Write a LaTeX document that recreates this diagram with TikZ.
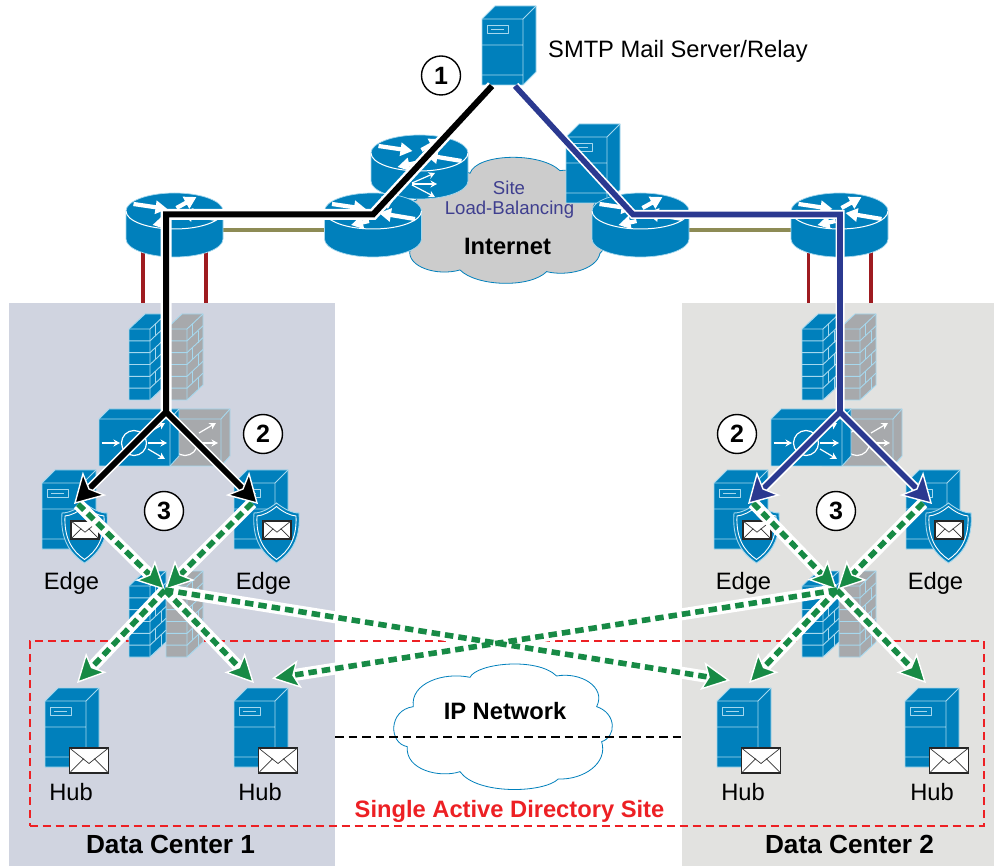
\documentclass[tikz,border=0pt]{standalone}
\usepackage{fontspec}
\setmainfont{Liberation Sans}
\usetikzlibrary{arrows.meta}
\definecolor{ciscoblue}{HTML}{0080BC}
\definecolor{edgeblue}{HTML}{A6D8EE}
\definecolor{fwgrey}{HTML}{A7A9AC}
\definecolor{panelA}{HTML}{D0D4E0}
\definecolor{panelB}{HTML}{E2E2E0}
\definecolor{wanred}{HTML}{9E1B20}
\definecolor{olive}{HTML}{8D8B55}
\definecolor{navyline}{HTML}{2B3990}
\definecolor{greenline}{HTML}{178A45}
\definecolor{adred}{HTML}{ED2024}
\definecolor{lbtext}{HTML}{3F3F8F}
\definecolor{cloudgrey}{HTML}{CCCCCC}
\tikzset{
  x=1pt,y=-1pt,
  lbl/.style={font=\fontsize{23.7}{26}\selectfont,inner sep=0pt},
  lblb/.style={font=\fontsize{23.7}{26}\selectfont\bfseries,inner sep=0pt},
  dclbl/.style={font=\fontsize{26.2}{28}\selectfont\bfseries,inner sep=0pt},
  stepmark/.style={circle,draw=black,line width=1.4pt,fill=white,minimum size=39pt,inner sep=0pt,font=\fontsize{25}{26}\selectfont\bfseries},
  iconline/.style={draw=edgeblue,line width=0.9pt,line join=round},
  whitearrow/.style={white,line width=4.2pt,-{Triangle[length=12pt,width=13pt]}},
  thinarrow/.style={white,line width=1.2pt,-{Stealth[length=6.5pt,width=7pt]}},
  halo/.style={white,line width=11pt,line join=miter},
  blackline/.style={black,line width=6pt,line join=miter},
  navy/.style={navyline,line width=5.6pt,line join=miter},
  blackhead/.style={black,line width=6pt,-{Stealth[length=29pt,width=33pt,inset=7pt,line width=1.4pt,color=white,fill=black]}},
  navyhead/.style={navyline,line width=5.6pt,-{Stealth[length=29pt,width=33pt,inset=7pt,line width=1.4pt,color=white,fill=navyline]}},
  greenhalo/.style={white,line width=12pt,shorten >=16pt},
  greenarrow/.style={greenline,line width=5.6pt,dash pattern=on 8.5pt off 5pt,-{Stealth[length=28pt,width=28pt,inset=6pt,line width=1.4pt,color=white,fill=greenline]}},
  pics/server/.style={code={
    \path[fill=ciscoblue,iconline] (0,0)--(13,-13)--(54,-13)--(54,53)--(41,66)--(0,66)--cycle;
    \draw[iconline] (0,0)--(41,0)--(41,66) (41,0)--(54,-13) (0,26)--(41,26) (0,56)--(41,56);
    \draw[iconline] (5,6) rectangle (26,14) (9,10)--(22,10);
  }},
  pics/envelope/.style 2 args={code={
    \draw[fill=white,draw=black!85,line width=1.1pt] (0,0) rectangle (#1,#2);
    \draw[black!80,line width=0.7pt] (0,0)--(.5*#1,.62*#2)--(#1,0) (0,#2)--(.37*#1,.42*#2) (#1,#2)--(.63*#1,.42*#2);
  }},
  pics/shield/.style={code={
    \path[fill=ciscoblue,draw=edgeblue,line width=0.9pt] (22.5,0) .. controls (30,6) and (38,10) .. (45,10) .. controls (47,35) and (38,50) .. (22.5,60) .. controls (7,50) and (-2,35) .. (0,10) .. controls (7,10) and (15,6) .. cycle;
    \draw[white,line width=0.9pt] (22.5,3.5) .. controls (29,9) and (36,12.5) .. (42,13) .. controls (43,35) and (35,48) .. (22.5,56.5) .. controls (10,48) and (2,35) .. (3,13) .. controls (9,12.5) and (16,9) .. cycle;
    \pic at (9,18) {envelope={28}{18}};
  }},
  pics/router/.style={code={
    \path[fill=ciscoblue,draw=edgeblue,line width=0.7pt] (-48.5,0) -- (-48.5,28) arc[start angle=180,end angle=360,x radius=48.5pt,y radius=18pt] -- (48.5,0) arc[start angle=0,end angle=180,x radius=48.5pt,y radius=18pt] -- cycle;
    \draw[white,line width=1pt] (-48.5,0) arc[start angle=180,end angle=360,x radius=48.5pt,y radius=18pt];
    \draw[whitearrow] (-41,-7)--(-7,-2);
    \draw[whitearrow] (2,-3)--(22,-14);
    \draw[whitearrow] (42,8)--(6,2);
    \draw[whitearrow] (-4,10)--(-22,14);
  }},
  pics/firewall/.style={code={
    \path[fill=#1,iconline] (0,0)--(16,-15)--(37,-15)--(37,56)--(21,71)--(0,71)--cycle;
    \draw[iconline] (0,0)--(21,0)--(21,71) (21,0)--(37,-15);
    \foreach \k in {1,...,5}{
      \draw[iconline] (0,{\k*11.83})--(21,{\k*11.83})--(37,{\k*11.83-15});
    }
    \foreach \k in {0,2,4}{
      \draw[iconline] (26,{\k*11.83-5})--(26,{\k*11.83+6.8});
    }
    \foreach \k in {1,3,5}{
      \draw[iconline] (32,{\k*11.83-10})--(32,{\k*11.83+1.8});
    }
  }},
  pics/balancer/.style={code={
    \path[fill=#1,iconline] (0,0)--(10,-10)--(80,-10)--(80,37)--(71,47)--(0,47)--cycle;
    \draw[iconline] (0,0)--(71,0)--(71,47) (71,0)--(80,-10);
    \draw[thinarrow] (2.5,24)--(21,24);
    \draw[white,line width=1.2pt] (35,24) circle[radius=12.5pt];
    \draw[thinarrow] (49,24)--(68,24);
    \draw[thinarrow] (49,14)--(66,4);
    \draw[thinarrow] (49,30)--(66,40);
  }},
}
\begin{document}
\begin{tikzpicture}
\useasboundingbox (0,0) rectangle (994,866);
\fill[white] (0,0) rectangle (994,866);
% data-centre panels
\fill[panelA] (9,303) rectangle (335,866);
\fill[panelB] (682,303) rectangle (994,866);
% anchors of the connectors
\coordinate (smtpL) at (492,86);
\coordinate (smtpR) at (515,86);
\coordinate (cornerA) at (373,214.5);
\coordinate (cornerB) at (166,214.5);
\coordinate (splitA) at (166,412);
\coordinate (cornerC) at (633,214.5);
\coordinate (cornerD) at (840,214.5);
\coordinate (splitB) at (840,412);
\coordinate (edgeA) at (74,504);
\coordinate (edgeB) at (258,504);
\coordinate (edgeC) at (748,504);
\coordinate (edgeD) at (932,504);
\coordinate (edgeAg) at (78,504);
\coordinate (edgeBg) at (252,503);
\coordinate (edgeCg) at (753,503);
\coordinate (edgeDg) at (923,503);
\coordinate (hubA) at (77,683);
\coordinate (hubB) at (254,683);
\coordinate (hubBx) at (272,678.5);
\coordinate (hubC) at (749,683);
\coordinate (hubCx) at (730,680.5);
\coordinate (hubD) at (926,683);
\coordinate (fwA) at (165,590);
\coordinate (fwB) at (837,590);
\coordinate (rA1) at (143,252);
\coordinate (rA2) at (206,252);
\coordinate (rB1) at (808.5,252);
\coordinate (rB2) at (871,252);
\coordinate (pA1) at (143,303);
\coordinate (pA2) at (206,303);
\coordinate (pB1) at (808.5,303);
\coordinate (pB2) at (871,303);
\coordinate (oA1) at (223,230);
\coordinate (oA2) at (324,230);
\coordinate (oB1) at (689,230);
\coordinate (oB2) at (791,230);
\coordinate (dashA) at (335,737);
\coordinate (dashB) at (682,737);
% WAN links
\draw[wanred,line width=3.6pt] (rA1)--(pA1) (rA2)--(pA2) (rB1)--(pB1) (rB2)--(pB2);
\draw[olive,line width=4pt] (oA1)--(oA2) (oB1)--(oB2);
% Internet cloud
\begin{scope}[shift={(320,0)},x=.3333pt,y=-.3333pt]
\path[fill=cloudgrey,draw=ciscoblue,line width=.8pt] (450,520) .. controls (470,460) and (660,455) .. (720,512)
 .. controls (790,500) and (850,570) .. (820,620)
 .. controls (870,650) and (870,740) .. (840,760)
 .. controls (830,810) and (740,830) .. (680,815)
 .. controls (630,865) and (470,860) .. (420,810)
 .. controls (350,830) and (260,800) .. (270,750)
 .. controls (200,700) and (220,620) .. (290,600)
 .. controls (280,540) and (390,490) .. (450,520) -- cycle;
\end{scope}
% routers and servers at the top
\pic (rtTop) at (419.5,153) {router};
\draw[thinarrow] (412,183)--(435,173);
\draw[thinarrow] (412,184)--(437,184);
\draw[thinarrow] (412,185)--(435,197);
\pic (srvLB) at (566,137) {server};
\pic (srvSMTP) at (482,19) {server};
\pic (rtA) at (174.5,211) {router};
\pic (rtB) at (373,211) {router};
\pic (rtC) at (640.5,211) {router};
\pic (rtD) at (839.5,211) {router};
% IP network cloud
\begin{scope}[shift={(330,600)},x=.3333pt,y=-.3333pt]
\path[fill=white,draw=ciscoblue,line width=.8pt] (420,232) .. controls (440,190) and (620,170) .. (680,228)
 .. controls (750,215) and (830,260) .. (800,320)
 .. controls (860,340) and (860,410) .. (815,425)
 .. controls (835,490) and (760,540) .. (685,537)
 .. controls (640,580) and (440,585) .. (390,515)
 .. controls (330,535) and (225,510) .. (232,440)
 .. controls (175,430) and (175,330) .. (250,320)
 .. controls (240,250) and (340,215) .. (420,232) -- cycle;
\end{scope}
\draw[black,line width=2pt,dash pattern=on 8.5pt off 5pt] (dashA)--(dashB);
% Active Directory site
\node[draw=adred,line width=2pt,dash pattern=on 8pt off 5pt,minimum width=954pt,minimum height=185pt,inner sep=0pt,outer sep=0pt,anchor=north west] (adsite) at (29.5,641) {};
% security devices
\pic (fwA1g) at (166,329) {firewall=fwgrey};
\pic (fwA1b) at (129,329) {firewall=ciscoblue};
\pic (lbA1g) at (150,419) {balancer=fwgrey};
\pic (lbA1b) at (99,419) {balancer=ciscoblue};
\pic (fwA2g) at (166,586) {firewall=fwgrey};
\pic (fwA2b) at (129,586) {firewall=ciscoblue};
\pic (fwB1g) at (839,329) {firewall=fwgrey};
\pic (fwB1b) at (802,329) {firewall=ciscoblue};
\pic (lbB1g) at (822,419) {balancer=fwgrey};
\pic (lbB1b) at (771,419) {balancer=ciscoblue};
\pic (fwB2g) at (839,586) {firewall=fwgrey};
\pic (fwB2b) at (802,586) {firewall=ciscoblue};
% Edge servers
\pic (srvE1) at (42,483) {server};
\pic (srvE2) at (234,483) {server};
\pic (srvE3) at (714,483) {server};
\pic (srvE4) at (906,483) {server};
\pic (shE1) at (62,503) {shield};
\pic (shE2) at (254,503) {shield};
\pic (shE3) at (734,503) {shield};
\pic (shE4) at (926,503) {shield};
% Hub servers
\pic (srvH1) at (45,701) {server};
\pic (srvH2) at (234,701) {server};
\pic (srvH3) at (717,701) {server};
\pic (srvH4) at (905,701) {server};
\pic (envH1) at (69.5,748) {envelope={39}{25}};
\pic (envH2) at (258.5,748) {envelope={39}{25}};
\pic (envH3) at (741.5,748) {envelope={39}{25}};
\pic (envH4) at (929.5,748) {envelope={39}{25}};
% green mail flows
\foreach \a/\b in {edgeAg/fwA,edgeBg/fwA,fwA/hubA,fwA/hubB,fwA/hubCx,edgeCg/fwB,edgeDg/fwB,fwB/hubC,fwB/hubD,fwB/hubBx}{
  \draw[greenhalo] (\a)--(\b);
}
\foreach \a/\b in {edgeAg/fwA,edgeBg/fwA,fwA/hubA,fwA/hubB,fwA/hubCx,edgeCg/fwB,edgeDg/fwB,fwB/hubC,fwB/hubD,fwB/hubBx}{
  \draw[greenarrow] (\a)--(\b);
}
% SMTP paths
\draw[halo] (smtpL)--(cornerA)--(cornerB)--(splitA);
\draw[white,line width=9pt,shorten >=14pt] (splitA)--(edgeA);
\draw[white,line width=9pt,shorten >=14pt] (splitA)--(edgeB);
\draw[blackline] (smtpL)--(cornerA)--(cornerB)--(splitA);
\draw[blackhead] (splitA)--(edgeA);
\draw[blackhead] (splitA)--(edgeB);
\draw[halo,line width=9pt] (smtpR)--(cornerC)--(cornerD)--(splitB);
\draw[white,line width=9pt,shorten >=14pt] (splitB)--(edgeC);
\draw[white,line width=9pt,shorten >=14pt] (splitB)--(edgeD);
\draw[navy] (smtpR)--(cornerC)--(cornerD)--(splitB);
\draw[navyhead] (splitB)--(edgeC);
\draw[navyhead] (splitB)--(edgeD);
% labels
\node[lbl,anchor=west] (smtp) at (548,51.5) {SMTP Mail Server/Relay};
\node[font=\fontsize{18.6}{20}\selectfont,text=lbtext,inner sep=0pt] (sitetxt) at (509,188) {Site};
\node[font=\fontsize{18.6}{20}\selectfont,text=lbtext,inner sep=0pt] (lbtxt) at (509.5,210) {Load-Balancing};
\node[lblb] (inet) at (507.5,246) {Internet};
\node[lblb] (ipnet) at (505,711) {IP Network};
\node[lblb,text=adred] (adlabel) at (509.5,811) {Single Active Directory Site};
\node[dclbl] (dc1) at (170.5,844) {Data Center 1};
\node[dclbl] (dc2) at (849.5,844) {Data Center 2};
\node[lbl] (e1) at (71.5,583) {Edge};
\node[lbl] (e2) at (263.5,583) {Edge};
\node[lbl] (e3) at (743.5,583) {Edge};
\node[lbl] (e4) at (935.5,583) {Edge};
\node[lbl] (h1) at (71,792) {Hub};
\node[lbl] (h2) at (260,792) {Hub};
\node[lbl] (h3) at (743,792) {Hub};
\node[lbl] (h4) at (932,792) {Hub};
\node[stepmark] (n1) at (441,75.5) {1};
\node[stepmark] (n2a) at (263,434) {2};
\node[stepmark] (n2b) at (737,434) {2};
\node[stepmark] (n3a) at (164,511) {3};
\node[stepmark] (n3b) at (836,511) {3};
\end{tikzpicture}
\end{document}
